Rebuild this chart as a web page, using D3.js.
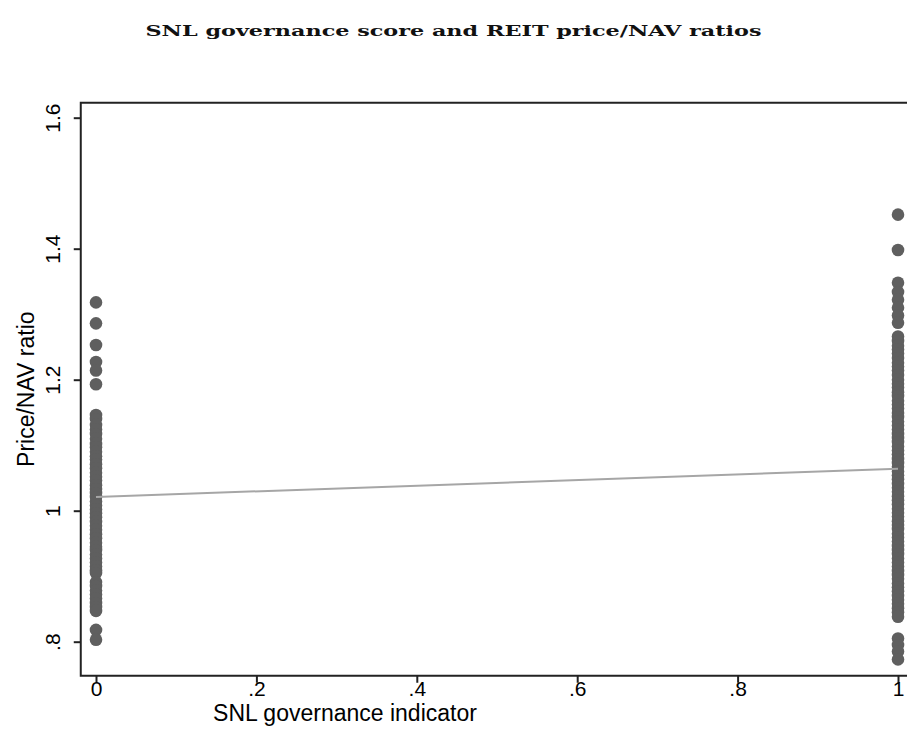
<!DOCTYPE html>
<html>
<head>
<meta charset="utf-8">
<script src="https://cdn.jsdelivr.net/npm/d3@7/dist/d3.min.js"></script>
<style>
  html, body { margin: 0; padding: 0; background: #fff; }
  svg { display: block; }
</style>
</head>
<body>
<svg id="chart" width="907" height="740"></svg>
<script>
// ---- data ----
const titleText = "SNL governance score and REIT price/NAV ratios";
const xTitle = "SNL governance indicator";
const yTitle = "Price/NAV ratio";

const xTickValues = [0, 0.2, 0.4, 0.6, 0.8, 1];
const xTickLabels = ["0", ".2", ".4", ".6", ".8", "1"];
const yTickValues = [0.8, 1.0, 1.2, 1.4, 1.6];
const yTickLabels = [".8", "1", "1.2", "1.4", "1.6"];

// Price/NAV ratios for REITs without SNL governance indicator (x = 0)
const group0 = [
  1.318, 1.286, 1.253, 1.227, 1.214, 1.193,
  1.146, 1.140, 1.131, 1.124, 1.117, 1.110, 1.102, 1.097, 1.090, 1.083,
  1.078, 1.071, 1.065, 1.058, 1.052, 1.046, 1.039, 1.033, 1.027, 1.021,
  1.014, 1.008, 1.002, 0.996, 0.990, 0.983, 0.977, 0.971, 0.964, 0.958,
  0.951, 0.945, 0.940, 0.933, 0.927, 0.921, 0.915, 0.909, 0.905,
  0.891, 0.885, 0.878, 0.872, 0.866, 0.859, 0.853, 0.847,
  0.818, 0.803
];
// Price/NAV ratios for REITs with SNL governance indicator (x = 1)
const group1 = [
  1.452, 1.398, 1.348, 1.334, 1.322, 1.310, 1.298, 1.287,
  1.266, 1.259, 1.252, 1.246, 1.240, 1.233, 1.226, 1.220, 1.214, 1.207,
  1.200, 1.194, 1.188, 1.181, 1.175, 1.168, 1.162, 1.156, 1.149, 1.143,
  1.136, 1.130, 1.124, 1.117, 1.111, 1.105, 1.098, 1.092, 1.086, 1.079,
  1.073, 1.067, 1.060, 1.054, 1.048, 1.041, 1.035, 1.029, 1.022, 1.016,
  1.010, 1.003, 0.997, 0.991, 0.984, 0.978, 0.972, 0.965, 0.959, 0.953,
  0.946, 0.940, 0.934, 0.927, 0.921, 0.915, 0.908, 0.902, 0.896, 0.889,
  0.883, 0.877, 0.870, 0.864, 0.858, 0.851, 0.845, 0.838,
  0.805, 0.795, 0.785, 0.773
];
// Linear fit (fitted values at x = 0 and x = 1)
const fitX = [0, 1];
const fitY = [1.021, 1.064];

// ---- layout ----
const svg = d3.select("#chart");
const W = 907, H = 740;
const x = d3.scaleLinear().domain([0, 1]).range([96, 898]);
const y = d3.scaleLinear().domain([0.8, 1.6]).range([641.7, 117.7]);
const plotLeft = x(-0.019), plotTop = y(1.623), plotBottom = y(0.748), plotRight = x(1.03);

const font = "'Liberation Sans', Arial, Helvetica, sans-serif";

// title
svg.append("text")
  .attr("x", W / 2).attr("y", 36)
  .attr("text-anchor", "middle")
  .attr("font-family", "'DejaVu Serif', 'Liberation Serif', serif")
  .attr("font-weight", "bold")
  .attr("font-size", 15)
  .attr("textLength", 616)
  .attr("lengthAdjust", "spacingAndGlyphs")
  .attr("fill", "#111")
  .text(titleText);

// points
const points = group0.map(v => ({gx: 0, v})).concat(group1.map(v => ({gx: 1, v})));
svg.append("g")
  .selectAll("circle")
  .data(points)
  .join("circle")
  .attr("cx", d => x(d.gx))
  .attr("cy", d => y(d.v))
  .attr("r", 6.3)
  .attr("fill", "#5f5f5f");

// fit line
const line = d3.line().x((d, i) => x(fitX[i])).y(d => y(d));
svg.append("path")
  .datum(fitY)
  .attr("d", line)
  .attr("fill", "none")
  .attr("stroke", "#a6a6a6")
  .attr("stroke-width", 2);

// frame (left, top, bottom)
svg.append("path")
  .attr("d", `M${plotRight},${plotTop}H${plotLeft}V${plotBottom}H${plotRight}`)
  .attr("fill", "none")
  .attr("stroke", "#222")
  .attr("stroke-width", 2);

// y axis
const yAxis = d3.axisLeft(y)
  .tickValues(yTickValues)
  .tickFormat((d, i) => yTickLabels[i])
  .tickSize(7)
  .tickPadding(0);
const gy = svg.append("g").attr("transform", `translate(${plotLeft},0)`).call(yAxis);
gy.select(".domain").remove();
gy.selectAll(".tick line").attr("stroke", "#222").attr("stroke-width", 2);
gy.selectAll(".tick text")
  .attr("font-family", font)
  .attr("font-size", 21)
  .attr("fill", "#000")
  .attr("text-anchor", "middle")
  .attr("dy", null)
  .attr("x", null)
  .attr("transform", "translate(-21,0) rotate(-90)");

// x axis
const xAxis = d3.axisBottom(x)
  .tickValues(xTickValues)
  .tickFormat((d, i) => xTickLabels[i])
  .tickSize(7)
  .tickPadding(0);
const gx = svg.append("g").attr("transform", `translate(0,${plotBottom})`).call(xAxis);
gx.select(".domain").remove();
gx.selectAll(".tick line").attr("stroke", "#222").attr("stroke-width", 2);
gx.selectAll(".tick text")
  .attr("font-family", font)
  .attr("font-size", 21)
  .attr("fill", "#000")
  .attr("dy", null)
  .attr("y", 20);

// axis titles
svg.append("text")
  .attr("x", 345).attr("y", 721)
  .attr("text-anchor", "middle")
  .attr("font-family", font)
  .attr("font-size", 23)
  .attr("fill", "#000")
  .text(xTitle);

svg.append("text")
  .attr("transform", `translate(34,${(plotTop + plotBottom) / 2}) rotate(-90)`)
  .attr("text-anchor", "middle")
  .attr("font-family", font)
  .attr("font-size", 23)
  .attr("fill", "#000")
  .text(yTitle);
</script>
</body>
</html>
